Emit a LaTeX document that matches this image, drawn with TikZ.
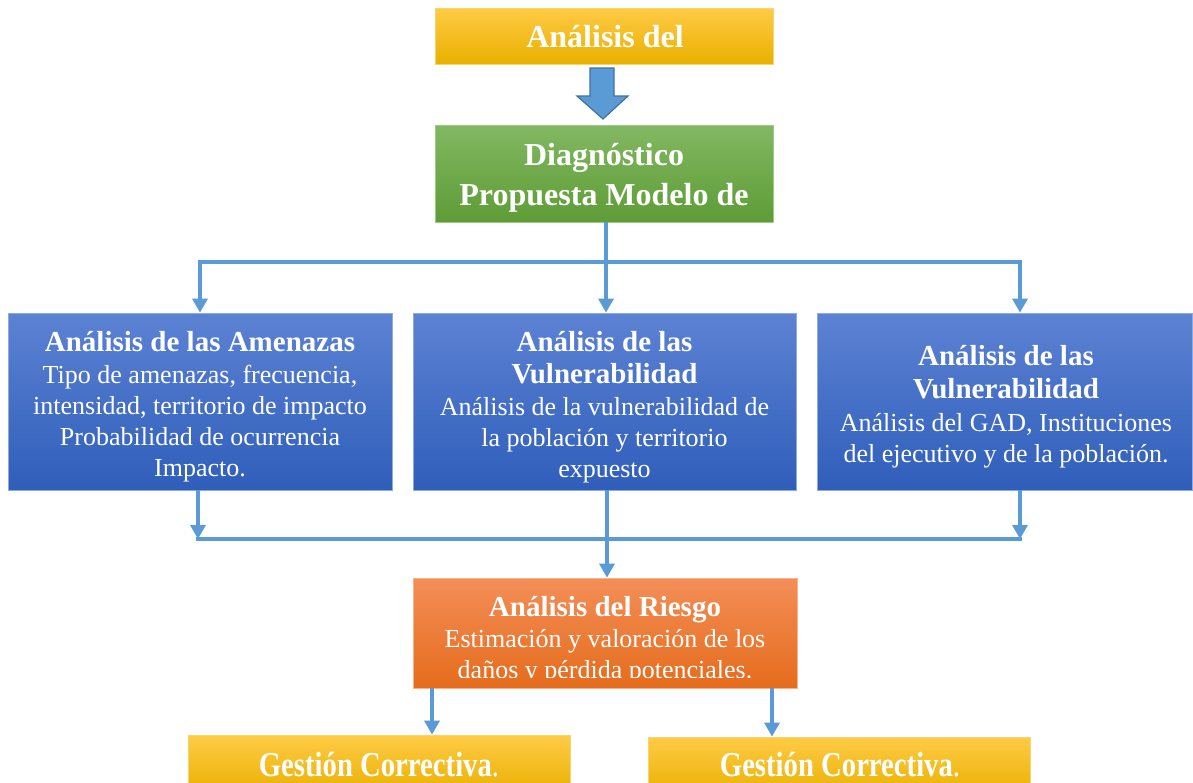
\documentclass[tikz,border=0pt]{standalone}
\usepackage{fontspec}
\setmainfont{Liberation Serif}
\usetikzlibrary{arrows.meta,calc}
\definecolor{connC}{HTML}{5B9BD5}
\definecolor{arrEdge}{HTML}{41719C}
\definecolor{yTop}{HTML}{FFCB45}
\definecolor{yMid}{HTML}{FFC000}
\definecolor{yBot}{HTML}{E9B000}
\definecolor{yEdge}{HTML}{F8D470}
\definecolor{gTop}{HTML}{82B862}
\definecolor{gMid}{HTML}{6EAC45}
\definecolor{gBot}{HTML}{5E9C36}
\definecolor{gEdge}{HTML}{9CCB84}
\definecolor{bTop}{HTML}{5C82D3}
\definecolor{bMid}{HTML}{416CC8}
\definecolor{bBot}{HTML}{2F5EBA}
\definecolor{bEdge}{HTML}{8EABE0}
\definecolor{oTop}{HTML}{F48E57}
\definecolor{oMid}{HTML}{F07A30}
\definecolor{oBot}{HTML}{E56C1C}
\definecolor{oEdge}{HTML}{F7B48C}
\tikzset{
  box/.style={rectangle, inner sep=0pt, line width=0.8pt},
  ybox/.style={box, top color=yTop, middle color=yMid, bottom color=yBot, draw=yEdge},
  gbox/.style={box, top color=gTop, middle color=gMid, bottom color=gBot, draw=gEdge},
  bbox/.style={box, top color=bTop, middle color=bMid, bottom color=bBot, draw=bEdge},
  obox/.style={box, top color=oTop, middle color=oMid, bottom color=oBot, draw=oEdge},
  txt/.style={inner sep=0pt, text=white, align=center, font=\fontsize{26}{31}\selectfont},
  bigtxt/.style={inner sep=0pt, text=white, align=center, font=\fontsize{32}{40}\selectfont\bfseries},
  conn/.style={draw=connC, line width=3.3pt},
  arr/.style={conn, -{Triangle[width=15pt,length=14pt]}},
  blockarrow/.style={fill=connC, draw=arrEdge, line width=1.2pt, line join=miter},
}
\newcommand{\hd}[1]{{\fontsize{29}{33}\selectfont\bfseries #1}}
\begin{document}
\begin{tikzpicture}[x=1pt,y=-1pt]
\useasboundingbox (0,0) rectangle (1193,782);
\clip (0,0) rectangle (1193,782);
\fill[white] (0,0) rectangle (1193,782);

% top box
\node[ybox, minimum width=338pt, minimum height=56pt] (top) at (604,36) {};
\node[bigtxt] (toptxt) at (605,37) {Análisis del};

% block arrow
\draw[blockarrow] (590,68) -- (614,68) -- (614,96) -- (628,96) -- (603,119)
  -- (577,96) -- (590,96) -- cycle;

% green box
\node[gbox, minimum width=338pt, minimum height=97pt] (diag) at (604,173.5) {};
\node[bigtxt] (diagtxt) at (604,178) {Diagnóstico\\ Propuesta Modelo de};

% blue boxes
\node[bbox, minimum width=384pt, minimum height=177pt] (amen) at (200,401.5) {};
\node[txt] (amentxt) at (200,406.5)
  {\hd{Análisis de las Amenazas}\\[1pt]
   Tipo de amenazas, frecuencia,\\
   intensidad, territorio de impacto\\
   Probabilidad de ocurrencia\\
   Impacto.};
\node[bbox, minimum width=383pt, minimum height=177pt] (vul1) at (604.5,401.5) {};
\node[txt] (vul1txt) at (604.5,407)
  {\hd{Análisis de las}\\[1pt]
   \hd{Vulnerabilidad}\\[1pt]
   Análisis de la vulnerabilidad de\\
   la población y territorio\\
   expuesto};
\node[bbox, minimum width=375pt, minimum height=177pt] (vul2) at (1004.5,401.5) {};
\node[txt] (vul2txt) at (1006,406.5)
  {\hd{Análisis de las}\\[2pt]
   \hd{Vulnerabilidad}\\[2pt]
   Análisis del GAD, Instituciones\\
   del ejecutivo y de la población.};

% orange box
\node[obox, minimum width=384pt, minimum height=110pt] (riesgo) at (605,633) {};
\begin{scope}
  \clip (riesgo.north west) rectangle ($(riesgo.south east)+(0,-11)$);
  \node[txt] (riesgotxt) at (605,640)
   {\hd{Análisis del Riesgo}\\[0pt]
    Estimación y valoración de los\\
    daños y pérdida potenciales.};
\end{scope}

% bottom boxes
\node[ybox, minimum width=382pt, minimum height=60pt] (gc1) at (379,765) {};
\node[inner sep=0pt, text=white] (gc1txt) at (379,764.5)
  {\scalebox{0.82}[1]{\fontsize{35}{40}\selectfont\bfseries Gestión Correctiva\mdseries.}};
\node[ybox, minimum width=382pt, minimum height=60pt] (gc2) at (839,767) {};
\node[inner sep=0pt, text=white] (gc2txt) at (840,764.5)
  {\scalebox{0.82}[1]{\fontsize{35}{40}\selectfont\bfseries Gestión Correctiva\mdseries.}};

% connectors: green to blue
\coordinate (ta) at (200,262);
\coordinate (tm) at (606,262);
\coordinate (tb) at (1020,262);
\draw[conn] (diag.south -| tm) -- (tm);
\draw[conn, line cap=rect] (ta) -- (tb);
\draw[arr] (ta) -- (ta |- amen.north);
\draw[arr] (tm) -- (tm |- vul1.north);
\draw[arr] (tb) -- (tb |- vul2.north);

% connectors: blue to orange
\coordinate (ba) at (198,539);
\coordinate (bm) at (607,539);
\coordinate (bb) at (1020,539);
\draw[conn, line cap=rect] (ba) -- (bb);
\draw[arr] (ba |- amen.south) -- (ba);
\draw[arr] (bb |- vul2.south) -- (bb);
\draw[arr] (bm |- vul1.south) -- (bm |- riesgo.north);

% connectors: orange to bottom
\coordinate (oa) at (432,688);
\coordinate (ob) at (772,688);
\draw[arr] (oa) -- (oa |- gc1.north);
\draw[arr] (ob) -- (ob |- gc2.north);
\end{tikzpicture}
\end{document}
